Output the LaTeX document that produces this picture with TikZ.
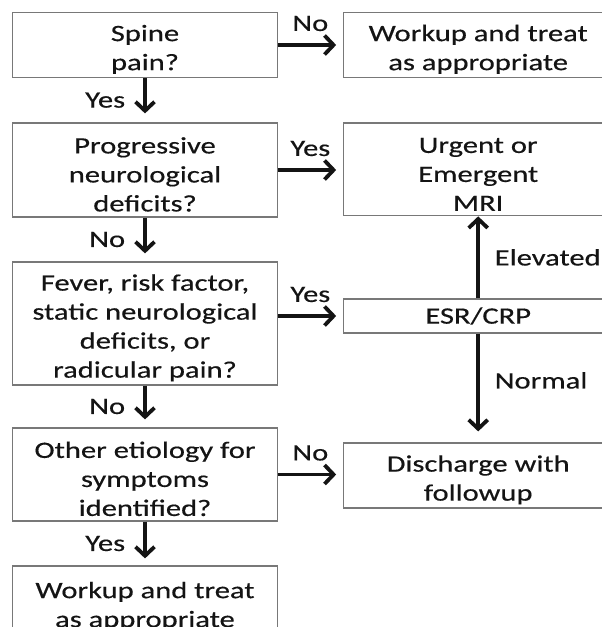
\documentclass[tikz,border=0pt]{standalone}
\usepackage{fontspec}
\setmainfont{Carlito}[FakeStretch=1.3,FakeBold=0.4]
\usetikzlibrary{arrows.meta,calc}
\definecolor{boxgray}{RGB}{120,120,120}
\definecolor{txt}{RGB}{20,20,20}
\newcommand{\topstrut}{\rule{0pt}{25pt}}
\begin{document}
\begin{tikzpicture}[x=1pt,y=-1pt,
  box/.style={draw=boxgray, line width=1.2pt, align=center, inner sep=0pt,
    font=\fontsize{23.5}{29}\selectfont, text=txt},
  lbox/.style={box, minimum width=264.6pt},
  rbox/.style={box, minimum width=269.7pt},
  lab/.style={font=\fontsize{23.5}{29}\selectfont, text=txt, inner sep=0pt},
  arr/.style={line width=3.8pt, draw=txt, -{Straight Barb[length=9pt,width=19pt]}}]
\path[use as bounding box, clip] (0,0) rectangle (602,627);
\fill[white] (0,0) rectangle (602,627);

\node[lbox, minimum height=64.6pt] (b1) at (145,45) {\topstrut Spine\\pain?};
\node[rbox, minimum height=64.6pt] (r1) at (478.2,45) {\topstrut Workup and treat\\as appropriate};
\node[lbox, minimum height=94pt] (b2) at (145,170) {\topstrut Progressive\\neurological\\deficits?};
\node[rbox, minimum height=92.7pt] (r2) at (478.2,169.4) {\topstrut Urgent or\\Emergent\\MRI};
\node[lbox, minimum height=123pt] (b3) at (145,323.5) {\topstrut Fever, risk factor,\\static neurological\\deficits, or\\radicular pain?};
\node[rbox, minimum height=34pt] (esr) at (478.2,316) {ESR/CRP};
\node[lbox, minimum height=93pt] (b4) at (145,474.5) {\topstrut Other etiology for\\symptoms\\identified?};
\node[rbox, minimum height=65pt] (dis) at (478.2,475.5) {\topstrut Discharge with\\followup};
\node[lbox, minimum height=72pt] (b5) at (145,602) {\topstrut Workup and treat\\as appropriate};

\draw[arr, shorten >=6.6pt] (b1.east) -- (r1.west) node[lab, midway, above=12pt] {No};
\draw[arr, shorten >=6.6pt] (b2.east) -- (b2.east -| r2.west) node[lab, midway, above=12pt] {Yes};
\draw[arr, shorten >=6.6pt] (b3.east |- esr.west) -- (esr.west) node[lab, midway, above=12pt] {Yes};
\draw[arr, shorten >=6.6pt] (b4.east) -- (b4.east -| dis.west) node[lab, midway, above=12pt] {No};

\draw[arr, shorten >=9pt] (b1.south) -- (b2.north) node[lab, midway, left=18pt] {Yes};
\draw[arr, shorten >=8pt] (b2.south) -- (b3.north) node[lab, midway, left=18pt] {No};
\draw[arr, shorten >=8pt] (b3.south) -- (b4.north) node[lab, midway, left=18pt] {No};
\draw[arr, shorten >=7pt] (b4.south) -- (b5.north) node[lab, midway, left=18pt] {Yes};

\draw[arr] (esr.north) -- (r2.south) node[lab, midway, right=14.7pt] {Elevated};
\draw[arr, shorten >=11pt] (esr.south) -- (dis.north) node[lab, pos=0.43, right=14.7pt] {Normal};
\end{tikzpicture}
\end{document}
